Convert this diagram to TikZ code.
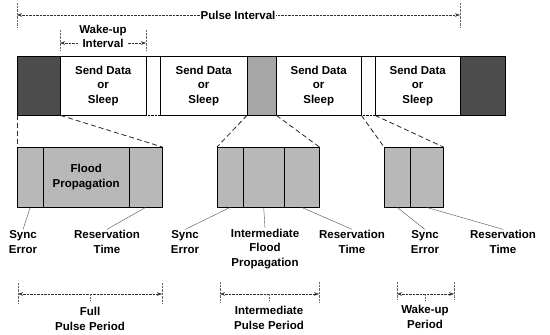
\documentclass[tikz,border=0pt]{standalone}
\usepackage{fontspec}
\setmainfont{Liberation Sans}
\usetikzlibrary{arrows.meta}
\begin{document}
\begin{tikzpicture}[x=1pt, y=-1pt, >={Stealth[length=5pt,width=3.5pt]},
    lbl/.style={font=\fontsize{11.5}{14.5}\selectfont\bfseries, align=center, inner sep=1pt},
    slot/.style={draw, thin, minimum height=59pt, inner sep=0pt, anchor=north west, lbl},
    part/.style={draw, thin, fill=black!28, minimum height=60pt, inner sep=0pt, anchor=north west, lbl},
    zoomline/.style={thick, dash pattern=on 5pt off 3pt, black!85},
    pointer/.style={thin, black!70},
    dimline/.style={densely dotted, black!80},
    tick/.style={densely dotted, black!60}]
  \useasboundingbox (0,0) rectangle (550,335);

  % one pulse interval
  \node[slot, fill=black!70, minimum width=43pt] (head) at (17,56) {};
  \node[slot, minimum width=86pt] (send1) at (60,56) {Send Data\\or\\Sleep};
  \node[slot, minimum width=87pt] (send2) at (160,56) {Send Data\\or\\Sleep};
  \node[slot, fill=black!35, minimum width=29pt] (inter) at (247,56) {};
  \node[slot, minimum width=85pt] (send3) at (276,56) {Send Data\\or\\Sleep};
  \node[slot, minimum width=85pt] (send4) at (375,56) {Send Data\\or\\Sleep};
  \node[slot, fill=black!70, minimum width=45pt] (tail) at (460,56) {};
  \draw[thin] (send1.north east) -- (send2.north west);
  \draw[thin, densely dotted] (send1.south east) -- (send2.south west);
  \draw[thin] (send3.north east) -- (send4.north west);
  \draw[thin, densely dotted] (send3.south east) -- (send4.south west);

  % intervals above
  \coordinate (pi1) at (17,15);
  \coordinate (pi2) at (460,15);
  \draw[tick] (17,3) -- (17,28);
  \draw[tick] (460,3) -- (460,28);
  \draw[dimline,<->] (pi1) -- (pi2);
  \node[lbl, fill=white] (pulse) at (238,15) {Pulse Interval};

  \coordinate (wi1) at (60,43);
  \coordinate (wi2) at (146,43);
  \draw[tick] (60,30) -- (60,51);
  \draw[tick] (146,30) -- (146,51);
  \draw[dimline,<->] (wi1) -- (wi2);
  \node[lbl, fill=white] (wakeint) at (103,36.5) {Wake-up\\Interval};

  % expanded periods
  \node[part, minimum width=26pt] (fsync) at (17,147) {};
  \node[part, minimum width=86pt] (fflood) at (43,147) {Flood\\Propagation};
  \node[part, minimum width=33pt] (fres) at (129,147) {};

  \node[part, minimum width=26pt] (isync) at (217,147) {};
  \node[part, minimum width=41pt] (iflood) at (243,147) {};
  \node[part, minimum width=35pt] (ires) at (284,147) {};

  \node[part, minimum width=26pt] (wsync) at (384,147) {};
  \node[part, minimum width=33pt] (wres) at (410,147) {};

  \draw[zoomline] (head.south west) -- (fsync.north west);
  \draw[zoomline] (head.south east) -- (fres.north east);
  \draw[zoomline] (inter.south west) -- (isync.north west);
  \draw[zoomline] (inter.south east) -- (ires.north east);
  \draw[zoomline] (send3.south east) -- (wsync.north west);
  \draw[zoomline] (send4.south west) -- (wres.north east);

  % part labels
  \node[lbl] (fsyncl) at (23,242) {Sync\\Error};
  \node[lbl] (fresl) at (107,242) {Reservation\\Time};
  \node[lbl] (isyncl) at (185,242) {Sync\\Error};
  \node[lbl] (ifloodl) at (265,249) {Intermediate\\Flood\\Propagation};
  \node[lbl] (iresl) at (352,242) {Reservation\\Time};
  \node[lbl] (wsyncl) at (425,242) {Sync\\Error};
  \node[lbl] (wresl) at (503,242) {Reservation\\Time};

  \draw[pointer] (fsync.south) -- (fsyncl.north);
  \draw[pointer] (fres.south) -- (fresl.north);
  \draw[pointer] (isync.south) -- (isyncl.north);
  \draw[pointer] (iflood.south) -- (ifloodl.north);
  \draw[pointer] (ires.south) -- (iresl.north);
  \draw[pointer] (wsync.south) -- (wsyncl.north);
  \draw[pointer] (wres.south) -- (wresl.north);

  % period lengths
  \coordinate (fp1) at (18,294);
  \coordinate (fp2) at (162,294);
  \draw[tick] (18,283) -- (18,303);
  \draw[tick] (162,283) -- (162,303);
  \draw[dimline,<->] (fp1) -- (fp2);
  \draw[tick] (90,294) -- (90,300);
  \node[lbl] (fullp) at (90,319) {Full\\Pulse Period};

  \coordinate (ip1) at (220,294);
  \coordinate (ip2) at (319,294);
  \draw[tick] (220,282) -- (220,302);
  \draw[tick] (319,282) -- (319,302);
  \draw[dimline,<->] (ip1) -- (ip2);
  \draw[tick] (269,294) -- (269,300);
  \node[lbl] (interp) at (269,318) {Intermediate\\Pulse Period};

  \coordinate (wp1) at (397,294);
  \coordinate (wp2) at (454,294);
  \draw[tick] (397,282) -- (397,300);
  \draw[tick] (454,282) -- (454,300);
  \draw[dimline,<->] (wp1) -- (wp2);
  \draw[tick] (425,294) -- (425,300);
  \node[lbl] (wakep) at (425,317) {Wake-up\\Period};
\end{tikzpicture}
\end{document}
